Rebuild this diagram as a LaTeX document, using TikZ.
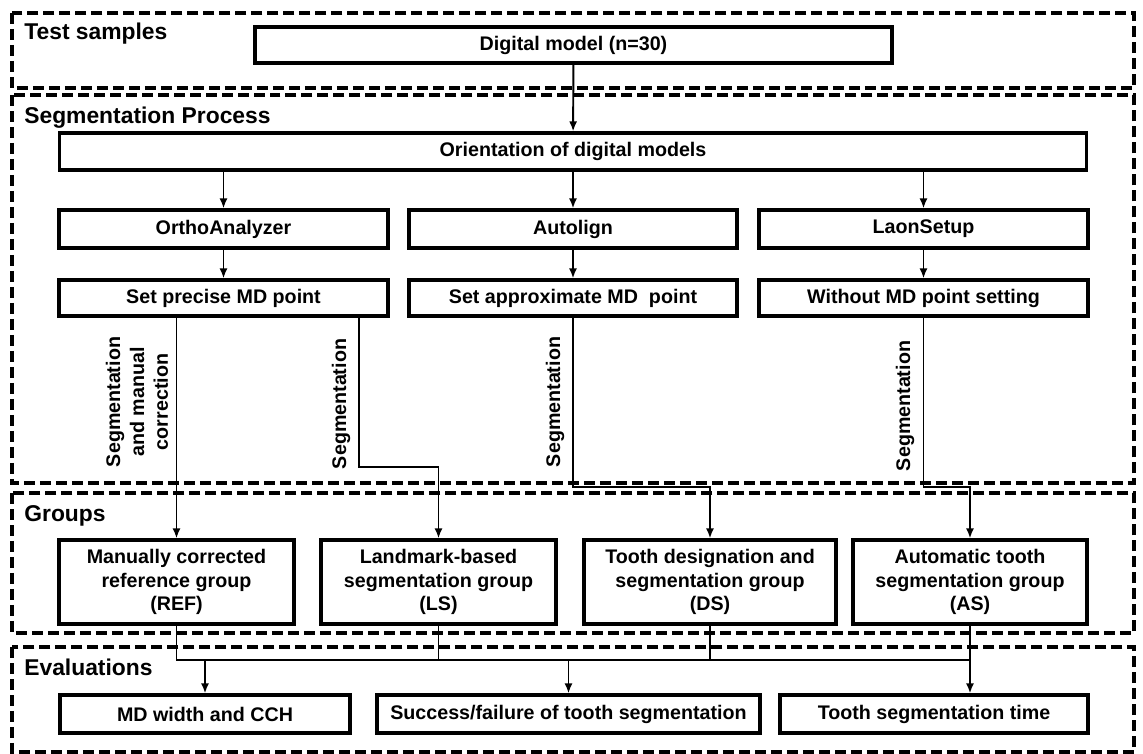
\documentclass[tikz,border=0pt]{standalone}
\usepackage{fontspec}
\setmainfont{Liberation Sans}
\usetikzlibrary{arrows.meta}

\begin{document}
\begin{tikzpicture}[x=0.02cm, y=-0.02cm,
    box/.style={draw, line width=1.8pt, fill=white, inner sep=0pt, align=center,
        font=\fontsize{11.2}{13.6}\selectfont\bfseries},
    frame/.style={draw, line width=1.8pt, dash pattern=on 0.22cm off 0.1cm},
    title/.style={anchor=base west, inner sep=0pt, font=\fontsize{13}{15}\selectfont\bfseries},
    link/.style={line width=1.1pt},
    arr/.style={link, -{Latex[length=0.2cm,width=0.16cm]}},
    side/.style={rotate=90, align=center, inner sep=0pt,
        font=\fontsize{11.2}{13.6}\selectfont\bfseries}]
        \useasboundingbox (0,0) rectangle (1143,754);

        % Dashed frames
        \draw[frame] (12,13) rectangle (1134,88);
        \draw[frame] (12,95) rectangle (1134,483);
        \draw[frame] (12,493) rectangle (1134,633);
        \draw[frame] (12,647) rectangle (1134,752);

        % Labels
        \node[title] (tTest) at (24,39) {Test samples};
        \node[title] (tSeg) at (24,123) {Segmentation Process};
        \node[title] (tGroups) at (24,521) {Groups};
        \node[title] (tEval) at (24,675) {Evaluations};

        % Draw nodes
        \node[box, minimum width=12.74cm, minimum height=0.72cm] (digital) at (573.5,45) {Digital model (n=30)};
        \node[box, minimum width=20.56cm, minimum height=0.74cm] (orient) at (573,151.5) {Orientation of digital models};

        \node[box, minimum width=6.58cm, minimum height=0.76cm] (ortho) at (223.5,229) {OrthoAnalyzer};
        \node[box, minimum width=6.56cm, minimum height=0.76cm] (autolign) at (573,229) {Autolign};
        \node[box, minimum width=6.58cm, minimum height=0.76cm] (laon) at (923.5,229) {LaonSetup};

        \node[box, minimum width=6.58cm, minimum height=0.72cm] (precise) at (223.5,298) {Set precise MD point};
        \node[box, minimum width=6.56cm, minimum height=0.72cm] (approx) at (573,298) {Set approximate MD\ \ point};
        \node[box, minimum width=6.58cm, minimum height=0.72cm] (without) at (923.5,298) {Without MD point setting};

        \node[box, minimum width=4.7cm, minimum height=1.68cm] (ref) at (176.5,582) {Manually corrected\\reference group\\(REF)};
        \node[box, minimum width=4.7cm, minimum height=1.68cm] (ls) at (438.5,582) {Landmark-based\\segmentation group\\(LS)};
        \node[box, minimum width=5.04cm, minimum height=1.68cm] (ds) at (710,582) {Tooth designation and\\segmentation group\\(DS)};
        \node[box, minimum width=4.68cm, minimum height=1.68cm] (as) at (970,582) {Automatic tooth\\segmentation group\\(AS)};

        \node[box, minimum width=5.8cm, minimum height=0.76cm] (md) at (205,714) {MD width and CCH};
        \node[box, minimum width=7.66cm, minimum height=0.76cm] (success) at (568.5,714) {Success/failure of tooth segmentation};
        \node[box, minimum width=6.16cm, minimum height=0.76cm] (time) at (934,714) {Tooth segmentation time};

        \coordinate (lsout) at (359,316);
        \coordinate (bus) at (0,660);
        \coordinate (asbus) at (bus -| as.south);

        % Draw connections
        \draw[arr] (digital) -- (orient);
        \draw[arr] (orient.south -| ortho.north) -- (ortho);
        \draw[arr] (orient.south -| autolign.north) -- (autolign);
        \draw[arr] (orient.south -| laon.north) -- (laon);
        \draw[arr] (ortho) -- (precise);
        \draw[arr] (autolign) -- (approx);
        \draw[arr] (laon) -- (without);

        \draw[arr] (precise.south -| ref.north) -- (ref.north);
        \draw[arr] (lsout) -- ++(0,151) -| (ls.north);
        \draw[arr] (approx.south) -- ++(0,169) -| (ds.north);
        \draw[arr] (without.south) -- ++(0,169) -| (as.north);

        \draw[link] (ref.south) |- (asbus) -- (as.south);
        \draw[link] (ls.south) -- (ls.south |- bus);
        \draw[link] (ds.south) -- (ds.south |- bus);
        \draw[arr] (bus -| md.north) -- (md.north);
        \draw[arr] (bus -| success.north) -- (success.north);
        \draw[arr] (asbus) -- (asbus |- time.north);

        % Side labels
        \node[side] (sRef) at (137,402) {Segmentation\\and manual\\correction};
        \node[side] (sLs) at (341,404) {Segmentation};
        \node[side] (sDs) at (555,402) {Segmentation};
        \node[side] (sAs) at (905,406) {Segmentation};
    \end{tikzpicture}
\end{document}
